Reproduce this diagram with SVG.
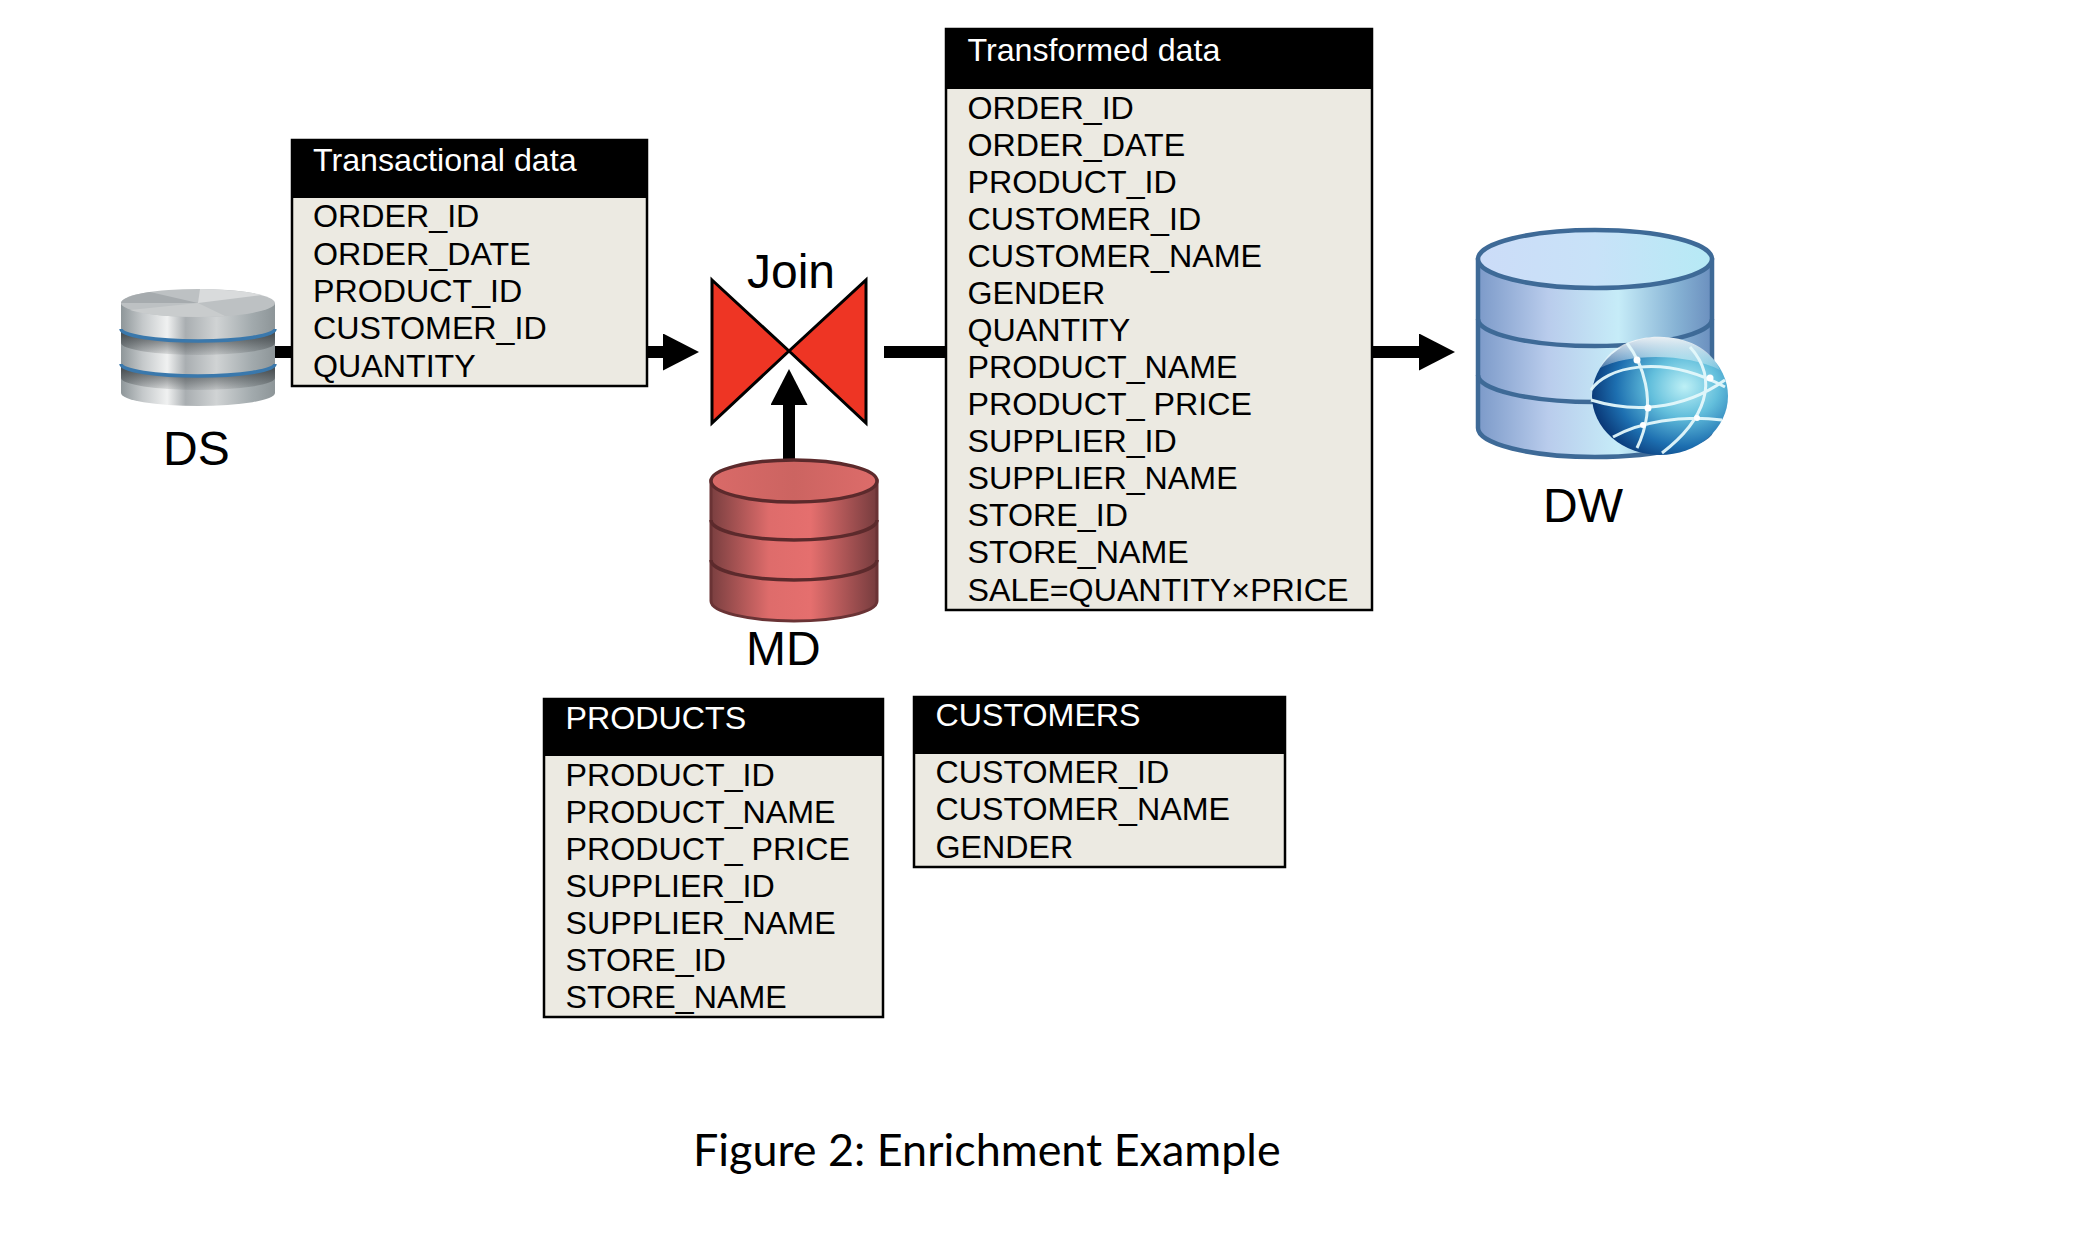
<svg xmlns="http://www.w3.org/2000/svg" width="2094" height="1254" viewBox="0 0 2094 1254">
<style>
text{font-family:"Liberation Sans",Arial,sans-serif;fill:#000}
.t{font-size:32.2px}
.h{font-size:32.2px;fill:#fff}
.l{font-size:48px}
.cap{font-family:Lato,"Noto Sans",sans-serif;font-size:44.9px}
.box{fill:#ECEAE2;stroke:#000;stroke-width:2.5}
.conn{stroke:#000;stroke-width:12;fill:none}
.dw{fill:none;stroke:#3E6A97;stroke-width:4.5}
.md{fill:none;stroke:#5C2A2C;stroke-width:3.5}
.glb{fill:none;stroke:#E4F8FB;stroke-width:3;opacity:.95}
</style>
<defs>
<marker id="head" markerUnits="userSpaceOnUse" markerWidth="36" markerHeight="37" refX="0" refY="18.5" orient="auto"><path d="M0 0L36 18.5L0 37z" fill="#000"/></marker>
<linearGradient id="dwTop" x1="0" x2="1" y1="0" y2="0"><stop offset="0" stop-color="#CCDCF8"/><stop offset=".5" stop-color="#C8E2F8"/><stop offset="1" stop-color="#B6EAF5"/></linearGradient>
<linearGradient id="dwSide" x1="0" x2="1" y1="0" y2="0"><stop offset="0" stop-color="#7C9AC9"/><stop offset=".3" stop-color="#B9CCEC"/><stop offset=".6" stop-color="#C6ECF8"/><stop offset=".85" stop-color="#86B2D4"/><stop offset="1" stop-color="#6B8FBE"/></linearGradient>
<radialGradient id="globe" cx=".68" cy=".42" r=".72"><stop offset="0" stop-color="#BDF0F6"/><stop offset=".35" stop-color="#63BFDC"/><stop offset=".7" stop-color="#1D6FB0"/><stop offset="1" stop-color="#07306F"/></radialGradient>
<linearGradient id="gloss" x1="0" x2="0" y1="0" y2="1"><stop offset="0" stop-color="#F4F6F7" stop-opacity=".95"/><stop offset="1" stop-color="#fff" stop-opacity=".2"/></linearGradient>
<linearGradient id="mdSide" x1="0" x2="1" y1="0" y2="0"><stop offset="0" stop-color="#7A3F40"/><stop offset=".35" stop-color="#DE6C6B"/><stop offset=".6" stop-color="#E56F6E"/><stop offset="1" stop-color="#763C3E"/></linearGradient>
<linearGradient id="mdTop" x1="0" x2="1" y1="0" y2="0"><stop offset="0" stop-color="#D96A68"/><stop offset=".5" stop-color="#CC6461"/><stop offset="1" stop-color="#DD6C6A"/></linearGradient>
<linearGradient id="dsSide" x1="0" x2="1" y1="0" y2="0"><stop offset="0" stop-color="#8E9699"/><stop offset=".14" stop-color="#C4C8CA"/><stop offset=".3" stop-color="#F0F1F1"/><stop offset=".42" stop-color="#A9AEB1"/><stop offset=".62" stop-color="#D0D3D4"/><stop offset=".85" stop-color="#A2AAAD"/><stop offset="1" stop-color="#8D9598"/></linearGradient>
<linearGradient id="dsGap" x1="0" x2="0" y1="0" y2="1"><stop offset="0" stop-color="#33383B" stop-opacity=".9"/><stop offset="1" stop-color="#33383B" stop-opacity=".1"/></linearGradient>
</defs>

<g id="connectors">
<line class="conn" x1="270" y1="352" x2="663" y2="352" marker-end="url(#head)"/>
<line class="conn" x1="884" y1="352" x2="1419" y2="352" marker-end="url(#head)"/>
<line class="conn" x1="789" y1="465" x2="789" y2="405" marker-end="url(#head)"/>
</g>

<g id="ds">
<path d="M121 303V393A77 13 0 0 0 275 393V303z" fill="url(#dsSide)"/>
<path d="M121 329A77 12 0 0 0 275 329V343A77 12 0 0 1 121 343z" fill="url(#dsGap)"/>
<path d="M121 364A77 12 0 0 0 275 364V378A77 12 0 0 1 121 378z" fill="url(#dsGap)"/>
<ellipse cx="198" cy="303" rx="77" ry="14" fill="#BDC1C3"/>
<path d="M198 303L121 303A77 14 0 0 1 150 292z" fill="#A6ABAE"/>
<path d="M198 303L200 289A77 14 0 0 1 262 295z" fill="#D9DBDC"/>
<path d="M198 303L130 310A77 14 0 0 0 225 316z" fill="#C9CCCD"/>
<path d="M121 329A77 12 0 0 0 275 329M121 364A77 12 0 0 0 275 364" fill="none" stroke="#3A78AC" stroke-width="3.5"/>
<text class="l" x="163" y="465">DS</text>
</g>

<g id="transactional">
<rect class="box" x="292" y="140" width="355" height="246"/>
<rect x="291" y="139" width="356" height="59" fill="#000"/>
<text class="h" x="313" y="171">Transactional data</text>
<text class="t" x="313" y="227">ORDER_ID</text>
<text class="t" x="313" y="265">ORDER_DATE</text>
<text class="t" x="313" y="302">PRODUCT_ID</text>
<text class="t" x="313" y="339">CUSTOMER_ID</text>
<text class="t" x="313" y="377">QUANTITY</text>
</g>

<g id="join">
<path d="M712 280L789 351L866 280V423L789 351L712 423z" fill="#EE3524" stroke="#000" stroke-width="3"/>
<text class="l" x="747" y="288">Join</text>
</g>

<g id="md">
<path d="M711 481V601A83 20 0 0 0 877 601V481z" fill="url(#mdSide)" stroke="#6A3335" stroke-width="3"/>
<path class="md" d="M711 520A83 20 0 0 0 877 520M711 560A83 20 0 0 0 877 560"/>
<ellipse cx="794" cy="481" rx="83" ry="21" fill="url(#mdTop)" stroke="#5C2A2C" stroke-width="3.5"/>
<text class="l" x="746" y="665">MD</text>
</g>

<g id="transformed">
<rect class="box" x="946" y="29" width="426" height="581"/>
<rect x="945" y="28" width="427" height="61" fill="#000"/>
<text class="h" x="967.500" y="60.500">Transformed data</text>
<text class="t" x="967.500" y="119">ORDER_ID</text>
<text class="t" x="967.500" y="155.500">ORDER_DATE</text>
<text class="t" x="967.500" y="192.500">PRODUCT_ID</text>
<text class="t" x="967.500" y="230">CUSTOMER_ID</text>
<text class="t" x="967.500" y="266.500">CUSTOMER_NAME</text>
<text class="t" x="967.500" y="303.500">GENDER</text>
<text class="t" x="967.500" y="341">QUANTITY</text>
<text class="t" x="967.500" y="378">PRODUCT_NAME</text>
<text class="t" x="967.500" y="415">PRODUCT_ PRICE</text>
<text class="t" x="967.500" y="452">SUPPLIER_ID</text>
<text class="t" x="967.500" y="489">SUPPLIER_NAME</text>
<text class="t" x="967.500" y="526">STORE_ID</text>
<text class="t" x="967.500" y="563">STORE_NAME</text>
<text class="t" x="967.500" y="600.500">SALE=QUANTITY×PRICE</text>
</g>

<g id="dw">
<path d="M1478 260V428A117 29 0 0 0 1712 428V260z" fill="url(#dwSide)" stroke="#3E6A97" stroke-width="4.5"/>
<path class="dw" d="M1478 319A117 27 0 0 0 1712 319M1478 375A117 27 0 0 0 1712 375"/>
<ellipse cx="1595" cy="259" rx="117" ry="29" fill="url(#dwTop)" stroke="#3E6A97" stroke-width="4.5"/>
<ellipse cx="1660" cy="396" rx="68" ry="59" fill="url(#globe)"/>
<path d="M1600 368C1618 326 1702 326 1720 370C1690 354 1630 352 1600 368z" fill="url(#gloss)"/>
<path class="glb" d="M1591 390C1605 368 1660 352 1725 387M1591 400C1630 412 1680 412 1725 380M1613 437C1640 422 1680 415 1722 420M1627 343C1640 360 1660 400 1637 448M1690 347C1720 380 1705 420 1662 453"/>
<g fill="#fff"><circle cx="1637" cy="360" r="3.500"/><circle cx="1648" cy="408" r="3.500"/><circle cx="1710" cy="378" r="3.500"/><circle cx="1697" cy="418" r="3"/><circle cx="1643" cy="425" r="3"/></g>
<text class="l" x="1543" y="522">DW</text>
</g>

<g id="products">
<rect class="box" x="544" y="699" width="339" height="318"/>
<rect x="543" y="698" width="340" height="58" fill="#000"/>
<text class="h" x="565.500" y="729">PRODUCTS</text>
<text class="t" x="565.500" y="786">PRODUCT_ID</text>
<text class="t" x="565.500" y="823">PRODUCT_NAME</text>
<text class="t" x="565.500" y="860">PRODUCT_ PRICE</text>
<text class="t" x="565.500" y="897">SUPPLIER_ID</text>
<text class="t" x="565.500" y="934">SUPPLIER_NAME</text>
<text class="t" x="565.500" y="971">STORE_ID</text>
<text class="t" x="565.500" y="1008">STORE_NAME</text>
</g>

<g id="customers">
<rect class="box" x="914" y="697" width="371" height="170"/>
<rect x="913" y="696" width="373" height="58" fill="#000"/>
<text class="h" x="935.500" y="726">CUSTOMERS</text>
<text class="t" x="935.500" y="783">CUSTOMER_ID</text>
<text class="t" x="935.500" y="820">CUSTOMER_NAME</text>
<text class="t" x="935.500" y="858">GENDER</text>
</g>

<text class="cap" x="693" y="1166">Figure 2: Enrichment Example</text>
</svg>
